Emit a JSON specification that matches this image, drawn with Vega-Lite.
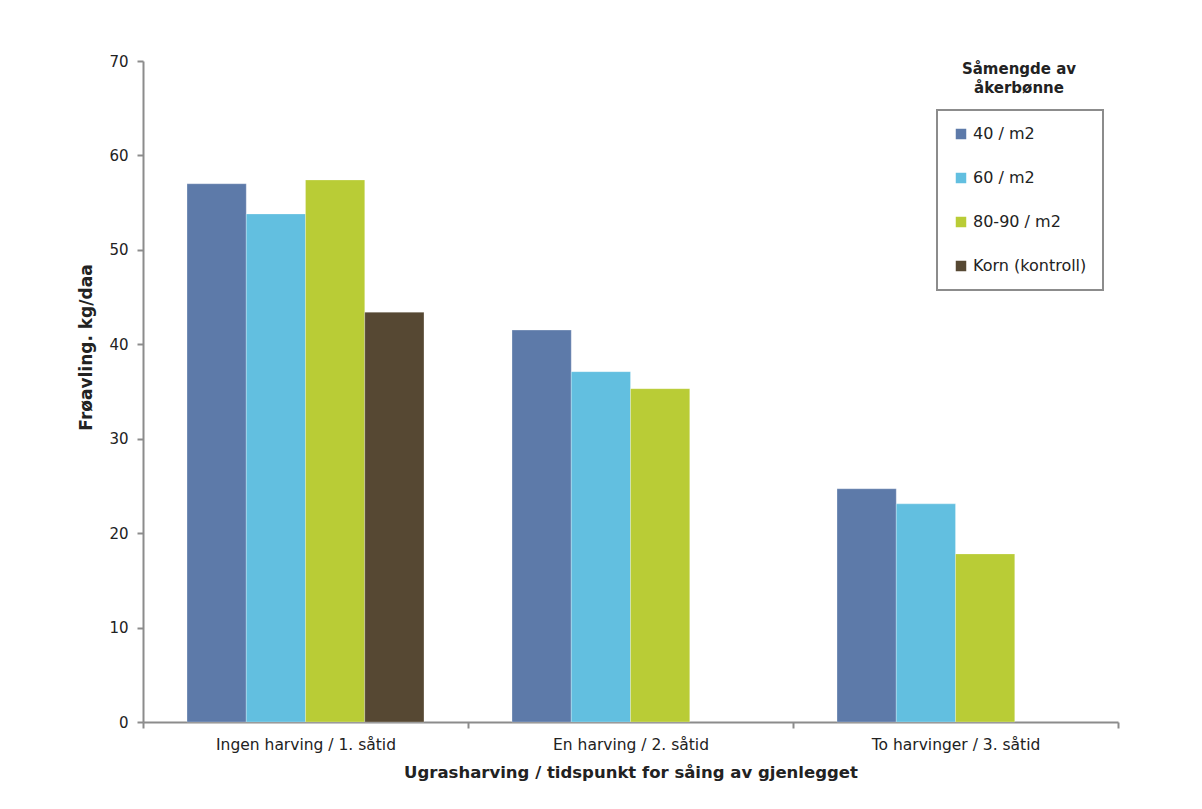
{
  "$schema": "https://vega.github.io/schema/vega-lite/v6.json",
  "width": 975,
  "height": 661,
  "autosize": {"type": "none"},
  "padding": {"left": 143, "top": 61, "right": 84, "bottom": 87},
  "background": "white",
  "title": {
    "text": ["Såmengde av", "åkerbønne"],
    "anchor": "end",
    "align": "center",
    "frame": "group",
    "baseline": "top",
    "offset": 0,
    "dx": -99,
    "dy": 42,
    "fontSize": 15,
    "fontWeight": "bold",
    "color": "#222222",
    "lineHeight": 19
  },
  "data": {
    "values": [
      {"group": "Ingen harving / 1. såtid", "series": "40 / m2", "value": 57.0},
      {"group": "Ingen harving / 1. såtid", "series": "60 / m2", "value": 53.8},
      {"group": "Ingen harving / 1. såtid", "series": "80-90 / m2", "value": 57.4},
      {"group": "Ingen harving / 1. såtid", "series": "Korn (kontroll)", "value": 43.4},
      {"group": "En harving / 2. såtid", "series": "40 / m2", "value": 41.5},
      {"group": "En harving / 2. såtid", "series": "60 / m2", "value": 37.1},
      {"group": "En harving / 2. såtid", "series": "80-90 / m2", "value": 35.3},
      {"group": "To harvinger / 3. såtid", "series": "40 / m2", "value": 24.7},
      {"group": "To harvinger / 3. såtid", "series": "60 / m2", "value": 23.1},
      {"group": "To harvinger / 3. såtid", "series": "80-90 / m2", "value": 17.8}
    ]
  },
  "mark": {"type": "bar", "stroke": "white", "strokeOpacity": 0.25, "strokeWidth": 1},
  "encoding": {
    "x": {
      "field": "group",
      "type": "nominal",
      "sort": null,
      "scale": {"paddingInner": 0, "paddingOuter": 0},
      "axis": {
        "title": "Ugrasharving / tidspunkt for såing av gjenlegget",
        "labelAngle": 0,
        "tickBand": "extent",
        "labelFontSize": 15.5,
        "labelPadding": 9,
        "titleFontSize": 16.5,
        "titleFontWeight": "bold",
        "titlePadding": 12
      }
    },
    "xOffset": {
      "field": "series",
      "type": "nominal",
      "scale": {
        "domain": ["40 / m2", "60 / m2", "80-90 / m2", "Korn (kontroll)"],
        "paddingInner": 0,
        "paddingOuter": 0.743
      }
    },
    "y": {
      "field": "value",
      "type": "quantitative",
      "scale": {"domain": [0, 70]},
      "axis": {
        "title": "Frøavling. kg/daa",
        "values": [0, 10, 20, 30, 40, 50, 60, 70],
        "grid": false,
        "labelFontSize": 15,
        "labelPadding": 9,
        "titleFontSize": 17,
        "titleFontWeight": "bold",
        "titlePadding": 13,
        "titleY": 286
      }
    },
    "color": {
      "field": "series",
      "type": "nominal",
      "scale": {
        "domain": ["40 / m2", "60 / m2", "80-90 / m2", "Korn (kontroll)"],
        "range": ["#5d7aa9", "#62bfe0", "#b9cc36", "#564833"]
      },
      "legend": {
        "title": null,
        "orient": "none",
        "legendX": 794,
        "legendY": 49,
        "strokeColor": "#8c8c8c",
        "fillColor": "white",
        "padding": 16,
        "rowPadding": 28,
        "labelFontSize": 16,
        "labelColor": "#222222",
        "labelOffset": 4,
        "symbolType": "square",
        "symbolSize": 110,
        "symbolStrokeWidth": 0,
        "symbolOpacity": 1
      }
    }
  },
  "config": {
    "font": "DejaVu Sans",
    "view": {"stroke": null},
    "legend": {"strokeWidth": 2},
    "axis": {
      "domainColor": "#8c8c8c",
      "domainWidth": 2,
      "tickColor": "#8c8c8c",
      "tickWidth": 2,
      "tickSize": 6,
      "labelColor": "#222222",
      "titleColor": "#222222"
    }
  }
}
